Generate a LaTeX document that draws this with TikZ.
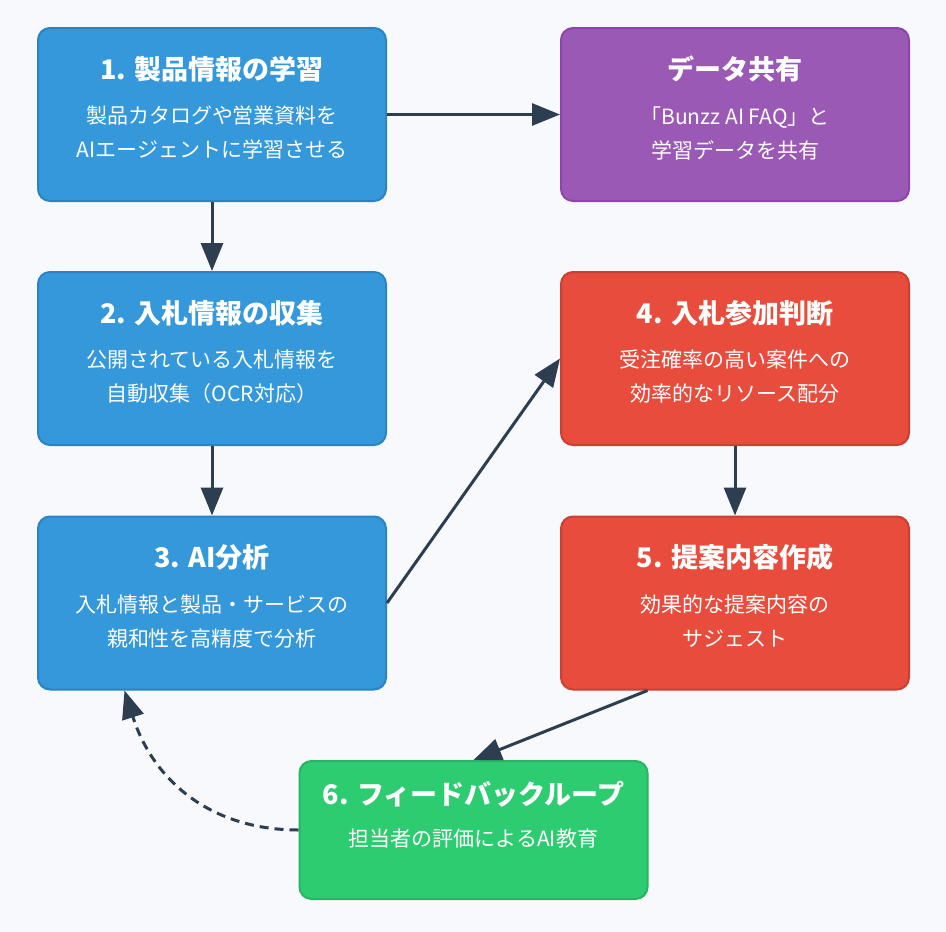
\documentclass[tikz,border=0pt]{standalone}
\usepackage{fontspec}
\setmainfont{Noto Sans CJK JP}
\usetikzlibrary{arrows.meta}
\definecolor{bgcol}{HTML}{F8F9FC}
\definecolor{bluefill}{HTML}{3498DB}
\definecolor{blueline}{HTML}{2A84C4}
\definecolor{purplefill}{HTML}{9B59B6}
\definecolor{purpleline}{HTML}{8E44AD}
\definecolor{redfill}{HTML}{E74C3C}
\definecolor{redline}{HTML}{C94034}
\definecolor{greenfill}{HTML}{2ECC71}
\definecolor{greenline}{HTML}{28B462}
\definecolor{arrowcol}{HTML}{2C3E50}

\begin{document}
\begin{tikzpicture}[x=1pt,y=-1pt,
box/.style={shape=rectangle,rounded corners=12pt,line width=2pt,minimum width=348pt,minimum height=173pt,inner sep=0pt},
ttl/.style={text=white,font=\fontsize{27}{30}\selectfont\bfseries},
txt/.style={text=white,align=center,font=\fontsize{21}{34}\selectfont},
arr/.style={-{Triangle[length=28pt,width=22pt]},draw=arrowcol,line width=3pt}]
\fill[bgcol] (0,0) rectangle (946,932);

\node[box,fill=bluefill,draw=blueline] (b1) at (212,114.5) {};
\node[box,fill=purplefill,draw=purpleline] (bd) at (735,114.5) {};
\node[box,fill=bluefill,draw=blueline] (b2) at (212,358.5) {};
\node[box,fill=redfill,draw=redline] (b4) at (735,358.5) {};
\node[box,fill=bluefill,draw=blueline] (b3) at (212,603) {};
\node[box,fill=redfill,draw=redline] (b5) at (735,603) {};
\node[box,fill=greenfill,draw=greenline,minimum height=138pt] (b6) at (473.5,830) {};

\node[ttl] (t1) at ([yshift=-42pt]b1.north) {1. 製品情報の学習};
\node[txt] (s1) at ([yshift=-106pt]b1.north) {製品カタログや営業資料を\\AIエージェントに学習させる};
\node[ttl] (td) at ([yshift=-42pt]bd.north) {データ共有};
\node[txt] (sd) at ([yshift=-106pt]bd.north) {「Bunzz AI FAQ」と\\学習データを共有};
\node[ttl] (t2) at ([yshift=-42pt]b2.north) {2. 入札情報の収集};
\node[txt] (s2) at ([yshift=-106pt]b2.north) {公開されている入札情報を\\自動収集（OCR対応）};
\node[ttl] (t4) at ([yshift=-42pt]b4.north) {4. 入札参加判断};
\node[txt] (s4) at ([yshift=-106pt]b4.north) {受注確率の高い案件への\\効率的なリソース配分};
\node[ttl] (t3) at ([yshift=-42pt]b3.north) {3. AI分析};
\node[txt] (s3) at ([yshift=-106pt]b3.north) {入札情報と製品・サービスの\\親和性を高精度で分析};
\node[ttl] (t5) at ([yshift=-42pt]b5.north) {5. 提案内容作成};
\node[txt] (s5) at ([yshift=-106pt]b5.north) {効果的な提案内容の\\サジェスト};
\node[ttl] (t6) at ([yshift=-34pt]b6.north) {6. フィードバックループ};
\node[txt] (s6) at ([yshift=-79pt]b6.north) {担当者の評価によるAI教育};

\path (b1.east) edge[arr] node {} (bd.west);
\path (b1.south) edge[arr] node {} (b2.north);
\path (b2.south) edge[arr] node {} (b3.north);
\path (b3.east) edge[arr] node {} (b4.west);
\path (b4.south) edge[arr] node {} (b5.north);
\path ([xshift=-87.5pt]b5.south) edge[arr] node {} (b6.north);
\draw [arr,dash pattern=on 9pt off 6pt] (b6.west) .. controls +(-87,0) and +(29,91) .. ([xshift=-87.5pt]b3.south);
\end{tikzpicture}
\end{document}
